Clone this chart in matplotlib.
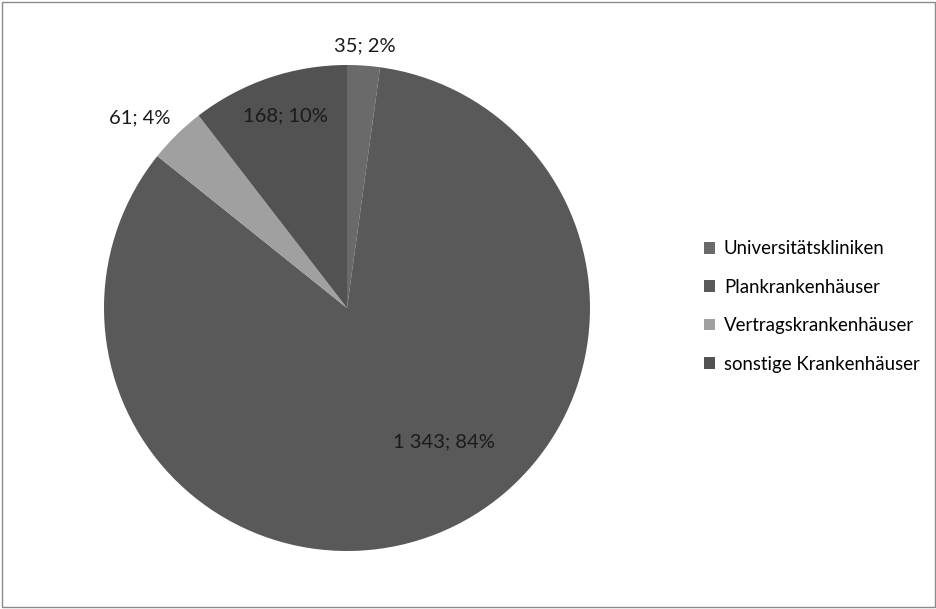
import numpy as np
import matplotlib.pyplot as plt
from matplotlib.patches import Rectangle

categories = ['Universitätskliniken', 'Plankrankenhäuser', 'Vertragskrankenhäuser', 'sonstige Krankenhäuser']
values = [35, 1343, 61, 168]
labels = ['35; 2%', '1 343; 84%', '61; 4%', '168; 10%']
colors = ['#6a6a6a', '#595959', '#a0a0a0', '#525252']

# label placement (radius factor, angle shift in degrees)
label_r = [1.08, 0.68, 1.16, 0.83]
label_shift = [0, 14, 3, -1]

plt.rcParams['font.family'] = ['Lato', 'DejaVu Sans']

fig = plt.figure(figsize=(9.37, 6.09), dpi=100)
fig.patches.append(Rectangle((0.002, 0.003), 0.996, 0.994, transform=fig.transFigure,
                             fill=False, edgecolor='#8c8c8c', linewidth=1.0))

cx, cy, r = 347, 609 - 308, 243
ax = fig.add_axes([(cx - r) / 937, (cy - r) / 609, 2 * r / 937, 2 * r / 609])
wedges, _ = ax.pie(values, colors=colors, startangle=90, counterclock=False,
                   radius=1.0, wedgeprops=dict(linewidth=0))
ax.set_xlim(-1, 1)
ax.set_ylim(-1, 1)
ax.set_aspect('equal')
ax.axis('off')

for w, lab, lr, sh in zip(wedges, labels, label_r, label_shift):
    ang = np.deg2rad((w.theta1 + w.theta2) / 2 + sh)
    ax.text(lr * np.cos(ang), lr * np.sin(ang), lab, ha='center', va='center',
            fontsize=14.5, color='#1a1a1a', clip_on=False)

leg = fig.legend(wedges, categories, loc='upper left', bbox_to_anchor=(695 / 937, 1 - 231 / 609),
                 frameon=False, fontsize=13.4, handlelength=0.6, handleheight=0.6,
                 handletextpad=0.45, labelspacing=1.15, borderpad=0)

fig.savefig('out.png', dpi=100)
